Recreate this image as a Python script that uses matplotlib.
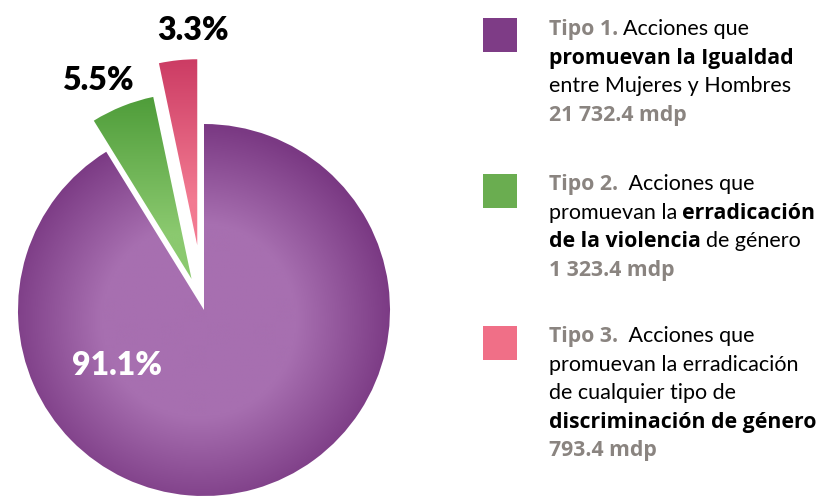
import numpy as np
import matplotlib
matplotlib.use("Agg")
import matplotlib.pyplot as plt
from matplotlib.colors import LinearSegmentedColormap

# datos (porcentaje del presupuesto por tipo de accion)
shares = [91.1, 5.5, 3.3]
pct_labels = ["91.1%", "5.5%", "3.3%"]
amounts = ["21 732.4 mdp", "1 323.4 mdp", "793.4 mdp"]
explode = [0.0, 0.18, 0.35]

# colores de leyenda y degradados (claro, oscuro)
legend_colors = ["#7e3c86", "#6aad50", "#f06f87"]
grad_colors = [("#a76fb0", "#7a3983"), ("#8bc96f", "#4f9d3a"), ("#f27a91", "#cc3c64")]

GRAY = "#8a8480"
FONT = "Lato"
BOLD_FONT = "Open Sans"

W, H = 833, 499
fig = plt.figure(figsize=(W / 100, H / 100), dpi=100)
ax = fig.add_axes([0, 0, 1, 1])

cx, cy, R = 204, H - 310, 186

wedges, _ = ax.pie(shares, explode=[e * R for e in explode], radius=R, center=(cx, cy),
                   startangle=90, counterclock=False, frame=True,
                   wedgeprops=dict(linewidth=0))

# relleno con degradados recortados a cada sector
ext = [cx - 2 * R, cx + 2 * R, cy - 2 * R, cy + 2 * R]
xs = np.linspace(ext[0], ext[1], 500)
ys = np.linspace(ext[2], ext[3], 500)
gx, gy = np.meshgrid(xs, ys)
for i, w in enumerate(wedges):
    light, dark = grad_colors[i]
    w.set_facecolor("none")
    if i == 0:
        z = np.hypot(gx - (cx - 5), gy - (cy - 10)) / R
        cmap = LinearSegmentedColormap.from_list("g", [light, light, dark])
        vmin, vmax = 0, 1.05
    else:
        bb = w.get_path().get_extents()
        z = gy
        cmap = LinearSegmentedColormap.from_list("g", [light, dark])
        vmin, vmax = bb.y0 + 0.25 * bb.height, bb.y1
    im = ax.imshow(z, extent=ext, origin="lower", cmap=cmap, vmin=vmin, vmax=vmax,
                   interpolation="bilinear", zorder=1)
    im.set_clip_path(w)

ax.set_xlim(0, W)
ax.set_ylim(0, H)
ax.set_aspect("auto")
ax.axis("off")

# etiquetas de porcentaje
ax.text(117, H - 375, pct_labels[0], color="white", fontsize=23, fontweight="heavy",
        family=FONT, ha="center", va="baseline", zorder=5)
ax.text(98, H - 90, pct_labels[1], color="black", fontsize=23, fontweight="heavy",
        family=FONT, ha="center", va="baseline", zorder=5)
ax.text(193, H - 40, pct_labels[2], color="black", fontsize=23, fontweight="heavy",
        family=FONT, ha="center", va="baseline", zorder=5)

# leyenda
renderer = fig.canvas.get_renderer()
GAP = 5


def draw_line(x, y, parts):
    for text, color, bold in parts:
        if bold:
            kw = dict(family=BOLD_FONT, fontweight="bold", fontsize=15.3)
        else:
            kw = dict(family=FONT, fontweight="normal", fontsize=15.5)
        t = ax.text(x, H - y, text, color=color, va="baseline", ha="left", **kw)
        x = t.get_window_extent(renderer).x1 + GAP


legend_blocks = [
    [[("Tipo 1.", GRAY, True), ("Acciones que", "black", False)],
     [("promuevan la Igualdad", "black", True)],
     [("entre Mujeres y Hombres", "black", False)],
     [(amounts[0], GRAY, True)]],
    [[("Tipo 2.", GRAY, True), (" Acciones que", "black", False)],
     [("promuevan la", "black", False), ("erradicación", "black", True)],
     [("de la violencia", "black", True), ("de género", "black", False)],
     [(amounts[1], GRAY, True)]],
    [[("Tipo 3.", GRAY, True), (" Acciones que", "black", False)],
     [("promuevan la erradicación", "black", False)],
     [("de cualquier tipo de", "black", False)],
     [("discriminación de género", "black", True)],
     [(amounts[2], GRAY, True)]],
]
block_tops = [35, 190, 342]
square_tops = [18, 174, 326]
LINE = 28.6

for i, block in enumerate(legend_blocks):
    ax.add_patch(plt.Rectangle((483, H - square_tops[i] - 34), 34, 34,
                               facecolor=legend_colors[i], edgecolor="none"))
    for j, parts in enumerate(block):
        draw_line(549, block_tops[i] + j * LINE, parts)

fig.savefig("out.png", dpi=100)
